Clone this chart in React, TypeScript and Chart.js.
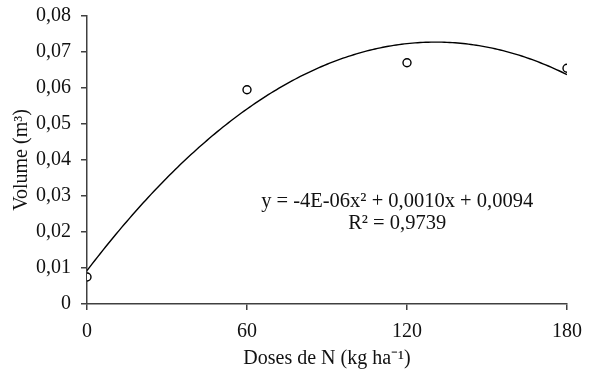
import { useEffect, useRef } from "react";
import { Chart, registerables } from "chart.js";

Chart.register(...registerables);

// ---- data ----
const doses = [0, 60, 120, 180];
const volume = [0.0075, 0.0595, 0.067, 0.0655];
const xTicks = [0, 60, 120, 180];
const yTicks = [0, 0.01, 0.02, 0.03, 0.04, 0.05, 0.06, 0.07, 0.08];
const equationText = "y = -4E-06x² + 0,0010x + 0,0094";
const r2Text = "R² = 0,9739";
const xTitle = "Doses de N (kg ha⁻¹)";
const yTitle = "Volume (m³)";

// least-squares quadratic fit of the observed points (trend line)
function fitQuadratic(xs: number[], ys: number[]) {
  const s = [0, 0, 0, 0, 0];
  const t = [0, 0, 0];
  for (let i = 0; i < xs.length; i++) {
    let p = 1;
    for (let k = 0; k < 5; k++) {
      s[k] += p;
      if (k < 3) t[k] += p * ys[i];
      p *= xs[i];
    }
  }
  const M = [
    [s[0], s[1], s[2], t[0]],
    [s[1], s[2], s[3], t[1]],
    [s[2], s[3], s[4], t[2]],
  ];
  for (let c = 0; c < 3; c++) {
    for (let r = c + 1; r < 3; r++) {
      const f = M[r][c] / M[c][c];
      for (let k = c; k < 4; k++) M[r][k] -= f * M[c][k];
    }
  }
  const sol = [0, 0, 0];
  for (let r = 2; r >= 0; r--) {
    let v = M[r][3];
    for (let k = r + 1; k < 3; k++) v -= M[r][k] * sol[k];
    sol[r] = v / M[r][r];
  }
  return sol; // c0, c1, c2
}

const FONT = "'Liberation Serif', 'Times New Roman', serif";
const TEXT = "#111";
const AXIS = "#404040";

export default function App() {
  const ref = useRef<HTMLCanvasElement | null>(null);

  useEffect(() => {
    if (!ref.current) return;
    const [c0, c1, c2] = fitQuadratic(doses, volume);
    const curve: { x: number; y: number }[] = [];
    for (let x = xTicks[0]; x <= xTicks[xTicks.length - 1]; x += 1) {
      curve.push({ x, y: c0 + c1 * x + c2 * x * x });
    }

    const annotation = {
      id: "eqn",
      afterDatasetsDraw(chart: any) {
        const { ctx, scales } = chart;
        const x = scales.x.getPixelForValue(116.3);
        const y1 = scales.y.getPixelForValue(0.0285);
        const y2 = scales.y.getPixelForValue(0.0222);
        ctx.save();
        ctx.font = `20.5px ${FONT}`;
        ctx.fillStyle = TEXT;
        ctx.textAlign = "center";
        ctx.textBaseline = "middle";
        ctx.fillText(equationText, x, y1);
        ctx.fillText(r2Text, x, y2);
        ctx.restore();
      },
    };

    const chart = new Chart(ref.current, {
      type: "scatter",
      data: {
        datasets: [
          {
            type: "scatter",
            data: doses.map((x, i) => ({ x, y: volume[i] })),
            pointRadius: 4,
            pointHoverRadius: 4,
            pointBorderWidth: 1.4,
            pointBorderColor: "#000",
            pointBackgroundColor: "#fff",
            order: 0,
          },
          {
            type: "line",
            data: curve,
            showLine: true,
            borderColor: "#000",
            borderWidth: 1.4,
            pointRadius: 0,
            tension: 0,
            fill: false,
            order: 1,
          } as any,
        ],
      },
      options: {
        animation: false,
        responsive: false,
        events: [],
        layout: { padding: { top: 16, right: 47, left: 0, bottom: 0 } },
        plugins: { legend: { display: false }, tooltip: { enabled: false } },
        scales: {
          x: {
            type: "linear",
            min: xTicks[0],
            max: xTicks[xTicks.length - 1],
            afterBuildTicks: (axis: any) => {
              axis.ticks = xTicks.map((v) => ({ value: v }));
            },
            afterFit: (scale: any) => {
              scale.height = 70;
              scale.paddingLeft = 0;
              scale.paddingRight = 0;
              scale.paddingTop = 0;
              scale.paddingBottom = 0;
            },
            grid: {
              display: true,
              drawOnChartArea: false,
              drawTicks: true,
              tickLength: 6,
              color: AXIS,
              lineWidth: 1.5,
            },
            border: { display: true, color: AXIS, width: 1.5 },
            ticks: {
              color: TEXT,
              font: { family: FONT, size: 20 },
              padding: 10,
              maxRotation: 0,
              callback: (v: any) => String(v),
            },
            title: {
              display: true,
              text: xTitle,
              color: TEXT,
              font: { family: FONT, size: 20 },
              padding: { top: 0, bottom: 3 },
            },
          },
          y: {
            type: "linear",
            min: yTicks[0],
            max: yTicks[yTicks.length - 1],
            afterBuildTicks: (axis: any) => {
              axis.ticks = yTicks.map((v) => ({ value: v }));
            },
            afterFit: (scale: any) => {
              scale.width = 87;
              scale.paddingLeft = 0;
              scale.paddingRight = 0;
              scale.paddingTop = 0;
              scale.paddingBottom = 0;
            },
            grid: {
              display: true,
              drawOnChartArea: false,
              drawTicks: true,
              tickLength: 6,
              color: AXIS,
              lineWidth: 1.5,
            },
            border: { display: true, color: AXIS, width: 1.5 },
            ticks: {
              color: TEXT,
              font: { family: FONT, size: 20 },
              padding: 10,
              callback: (v: any) =>
                Number(v) === 0 ? "0" : Number(v).toFixed(2).replace(".", ","),
            },
            title: {
              display: true,
              text: yTitle,
              color: TEXT,
              font: { family: FONT, size: 20 },
              padding: { top: 10, bottom: 0 },
            },
          },
        },
      },
      plugins: [annotation],
    });
    return () => chart.destroy();
  }, []);

  return (
    <div style={{ position: "absolute", left: 0, top: 0, width: 614, height: 374, background: "#fff" }}>
      <canvas ref={ref} width={614} height={374} style={{ display: "block" }} />
    </div>
  );
}
